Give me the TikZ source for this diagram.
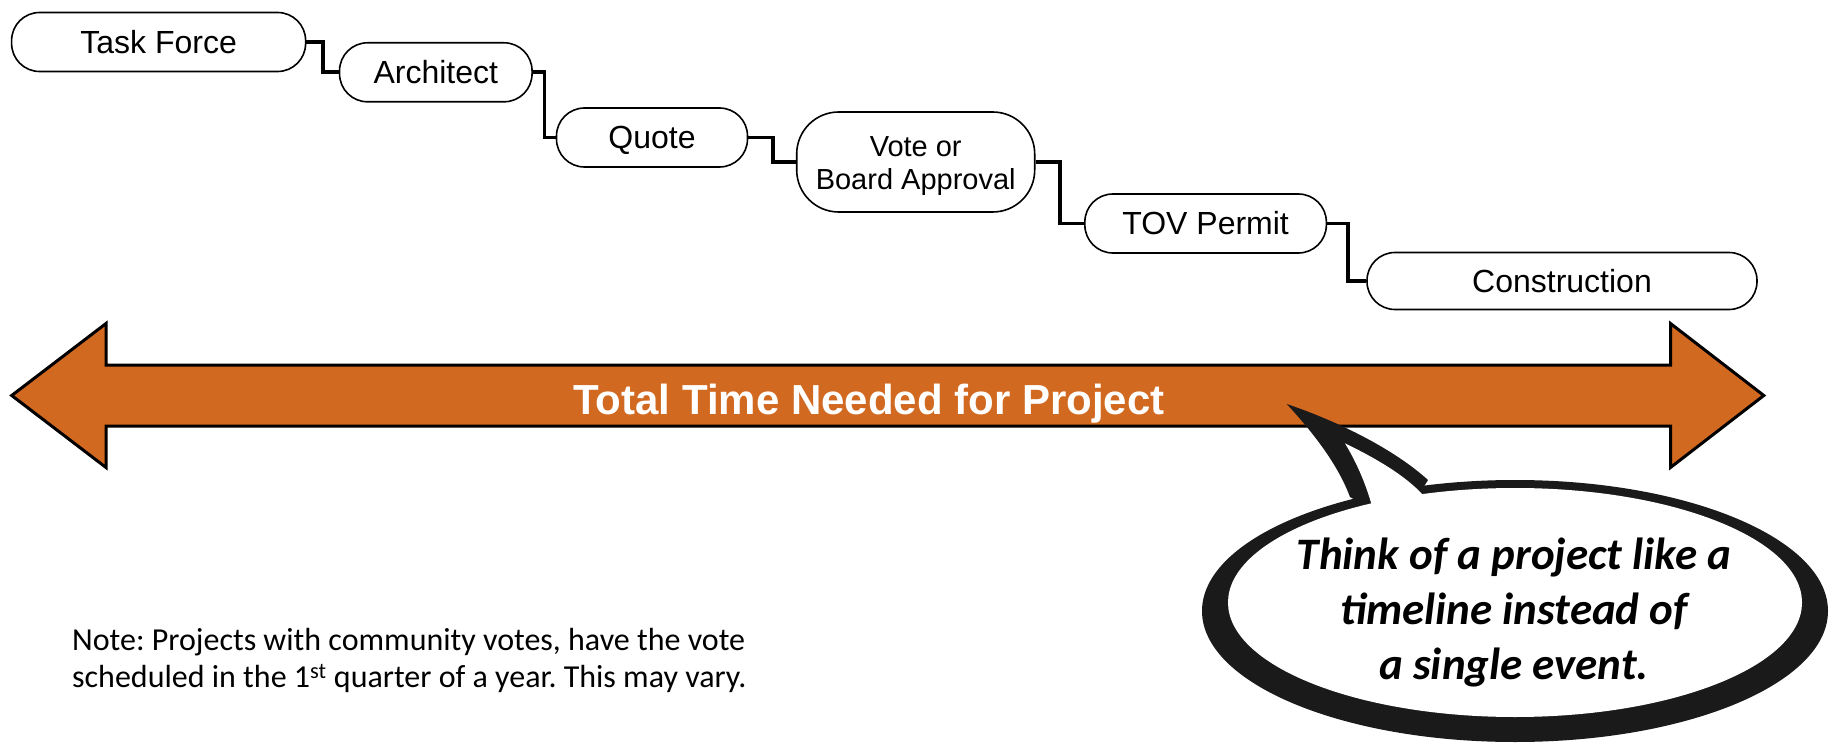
\documentclass[tikz,border=0pt]{standalone}
\usepackage{fontspec}
\setmainfont{Liberation Sans}
\newfontfamily\calibri{Carlito}
\definecolor{arroworange}{RGB}{210,105,32}
\definecolor{bubbleblack}{RGB}{26,26,26}
\frenchspacing
\begin{document}
\begin{tikzpicture}[x=1pt,y=-1pt,
  stage/.style={draw, line width=1.6pt, rounded corners=28pt, minimum height=59pt,
    inner sep=0pt, text height=23pt, text depth=0pt, font=\fontsize{32}{38}\selectfont},
  conn/.style={draw, line width=3.6pt},
  arrowbody/.style={fill=arroworange, draw=black, line width=3pt, line join=miter},
  arrowtext/.style={text=white, font=\bfseries\fontsize{42}{50}\selectfont},
  bubbletext/.style={align=center, inner sep=0pt, font=\calibri\bfseries\itshape\fontsize{45}{55}\selectfont},
  notetext/.style={align=left, inner sep=0pt, font=\calibri\fontsize{32}{37.5}\selectfont}]
\useasboundingbox (0,0) rectangle (1829,743);

% stages
\node[stage, minimum width=294pt] (tf) at (158.6,42) {Task Force};
\node[stage, minimum width=192.5pt] (ar) at (435.8,72.3) {Architect};
\node[stage, minimum width=191pt] (qu) at (652,137.5) {Quote};
\node[draw, line width=1.6pt, inner sep=0pt, minimum width=238pt, minimum height=100pt,
      rounded corners=42pt, font=\fontsize{29}{32.5}\selectfont] (vo) at (915.7,162)
      {\raisebox{0pt}[22.75pt][33.05pt]{\begin{tabular}[t]{@{}c@{}}Vote or\\Board Approval\end{tabular}}};
\node[stage, minimum width=241.5pt] (tp) at (1205.6,223.5) {TOV Permit};
\node[stage, minimum width=390pt, minimum height=57pt] (co) at (1562,281) {Construction};

% connectors
\draw[conn] (tf.east) -- ++(16.4,0) |- (ar.west);
\draw[conn] (ar.east) -- ++(11.6,0) |- (qu.west);
\draw[conn] (qu.east) -- ++(24.5,0) |- (vo.west);
\draw[conn] (vo.east) -- ++(24.3,0) |- (tp.west);
\draw[conn] (tp.east) -- ++(20.7,0) |- (co.west);

% double arrow
\draw[arrowbody] (11.7,395.5) -- (106,323.5) -- (106,365) -- (1670.5,365) -- (1670.5,323.5)
  -- (1763.8,395.5) -- (1670.5,467.5) -- (1670.5,426) -- (106,426) -- (106,467.5) -- cycle;
\node[arrowtext, anchor=base] (tt) at (869,414) {Total Time Needed for Project};

% speech bubble
\fill[bubbleblack] (1515,611) ellipse [x radius=313, y radius=131];
\fill[bubbleblack] (1400,525) -- (1350,497) .. controls (1340,470) and (1320,440) .. (1286.7,404)
  .. controls (1340,422) and (1395,450) .. (1428,480) -- cycle;
\fill[white] (1515,602.5) ellipse [x radius=287, y radius=114.5];
\fill[white] (1400,540) -- (1372,506) .. controls (1366,485) and (1358,465) .. (1345,443.3)
  .. controls (1375,458) and (1405,475) .. (1424,496) -- cycle;
\node[bubbletext, anchor=north] (bt) at (1514,537.5) {Think of a project like a\\timeline instead of\\a single event.};

% note
\node[notetext, anchor=north west] (nt) at (72,628) {Note: Projects with community votes, have the vote\\scheduled in the 1\textsuperscript{st} quarter of a year. This may vary.};
\end{tikzpicture}
\end{document}
